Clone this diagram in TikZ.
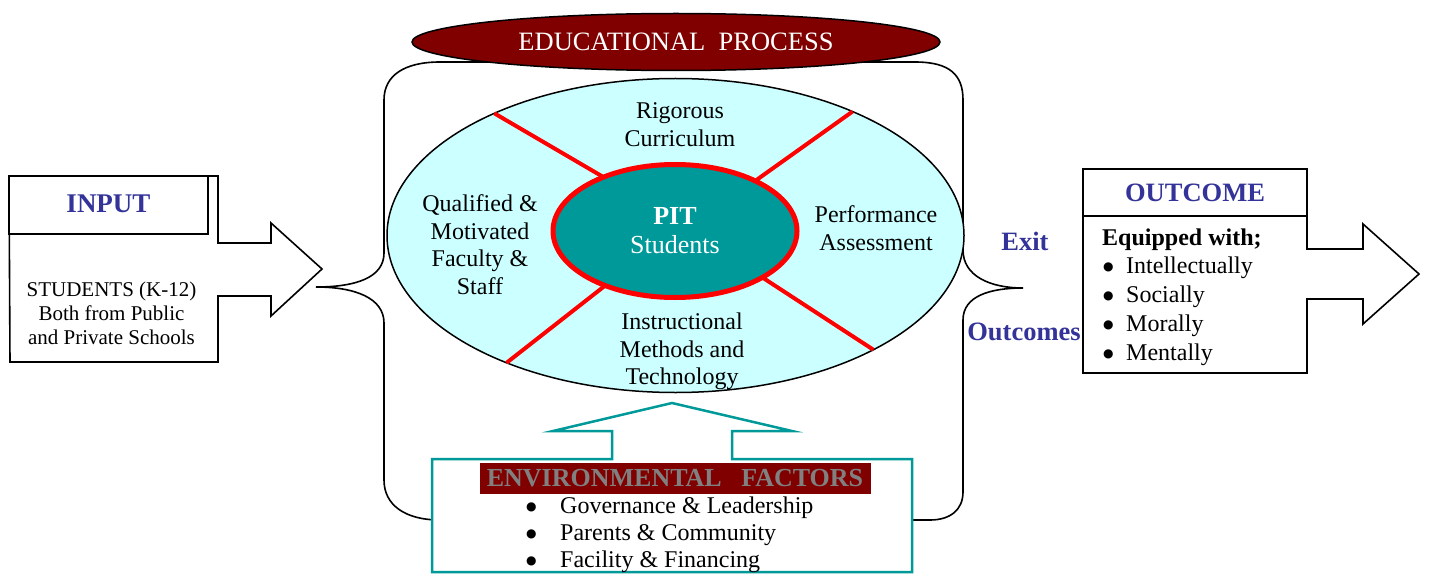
\documentclass[tikz,border=0pt]{standalone}
\usepackage{fontspec}
\setmainfont{Liberation Serif}
\newfontfamily\dejavu{DejaVu Sans}
\usetikzlibrary{shapes.geometric}
\definecolor{dred}{HTML}{800000}
\definecolor{navyc}{HTML}{333399}
\definecolor{tealc}{HTML}{009999}
\definecolor{lcyan}{HTML}{CCFFFF}
\definecolor{greyc}{HTML}{808080}
\newcommand{\bigbul}[1]{\makebox[#1][l]{\raisebox{2.6pt}{\dejavu\fontsize{12}{12}\selectfont ●}}}
\begin{document}
\begin{tikzpicture}[x=1pt,y=-1pt,
  outline/.style={draw=black,line width=1.6pt},
  lbl/.style={align=center,inner sep=0pt,font=\fontsize{24}{27.5}\selectfont},
  head/.style={inner sep=0pt,text=navyc,font=\fontsize{26.5}{30}\selectfont\bfseries},
  itm/.style={anchor=base west,inner sep=0pt,font=\fontsize{24}{28}\selectfont},
  spoke/.style={draw=red,line width=4pt}]
\useasboundingbox (0,0) rectangle (1429,575);

% bracket enclosing the educational process
\draw[outline] (440,62) -- (915,62) .. controls (950,62) and (963,75) .. (963,100)
  -- (963,250) .. controls (963,276) and (990,288) .. (1023,288)
  .. controls (990,288) and (963,296) .. (963,320)
  -- (963,492) .. controls (963,510) and (950,520) .. (930,520)
  -- (440,520) .. controls (405,520) and (384,505) .. (384,480)
  -- (384,323) .. controls (384,298) and (355,287) .. (316,287)
  .. controls (355,287) and (384,278) .. (384,253)
  -- (384,100) .. controls (384,75) and (405,62) .. (440,62) -- cycle;

% top title
\node[ellipse,draw=black,line width=1.5pt,fill=dred,minimum width=528,minimum height=57,
  inner sep=0pt,outer sep=0pt,text=white,font=\fontsize{26.5}{30}\selectfont] (edu) at (676,42)
  {EDUCATIONAL\ \ PROCESS};

% main ellipse
\node[ellipse,draw=black,line width=1.5pt,fill=lcyan,minimum width=577,minimum height=314,
  inner sep=0pt,outer sep=0pt] (main) at (675.5,235.5) {};
\node[ellipse,draw=red,line width=5pt,fill=tealc,minimum width=244,minimum height=133,
  inner sep=0pt,outer sep=0pt,text=white,align=center,font=\fontsize{26}{29}\selectfont] (pit) at (675,231)
  {\textbf{PIT}\\Students};
\draw[spoke] (main.146.5) -- (pit.143);
\draw[spoke] (main.35.5) -- (pit.32.8);
\draw[spoke] (main.217.2) -- (pit.218);
\draw[spoke] (main.330.2) -- (pit.332.5);

\node[lbl] (rig) at (680,124.5) {Rigorous\\Curriculum};
\node[lbl] (fac) at (480,244.5) {Qualified \&\\Motivated\\Faculty \&\\Staff};
\node[lbl] (perf) at (876,228) {Performance\\Assessment};
\node[lbl] (instr) at (682,351.5) {Instructional\\Methods and\\Technology};

% input arrow
\draw[outline,fill=white] (9,176) -- (218,176) -- (218,243) -- (271,243) -- (271,223) -- (322,269)
  -- (271,316) -- (271,296) -- (218,296) -- (218,362) -- (10,362) -- cycle;
\node[outline,fill=white,minimum width=199,minimum height=58,inner sep=0pt,
  text=navyc,font=\fontsize{27}{30}\selectfont\bfseries] (input) at (108.5,205) {\raisebox{2.5pt}{INPUT}};
\node[align=center,inner sep=0pt,font=\fontsize{21}{24}\selectfont] (stud) at (111.5,313)
  {STUDENTS (K-12)\\Both from Public\\and Private Schools};

% outcome arrow
\draw[outline,fill=white] (1083,216) -- (1307,216) -- (1307,249) -- (1363,249) -- (1363,224)
  -- (1419,274) -- (1363,324) -- (1363,299) -- (1307,299) -- (1307,373) -- (1083,373) -- cycle;
\node[outline,fill=white,minimum width=224,minimum height=47,inner sep=0pt,
  text=navyc,font=\fontsize{26.5}{30}\selectfont\bfseries] (outc) at (1195,192.5) {OUTCOME};
\node[itm,font=\fontsize{24}{28}\selectfont\bfseries] (equip) at (1102,245) {Equipped with;};
\node[itm] (o1) at (1103,273) {\bigbul{23pt}Intellectually};
\node[itm] (o2) at (1103,302) {\bigbul{23pt}Socially};
\node[itm] (o3) at (1103,331) {\bigbul{23pt}Morally};
\node[itm] (o4) at (1103,360) {\bigbul{23pt}Mentally};

\node[head] (exit) at (1025,241) {Exit};
\node[head] (outs) at (1024,332) {Outcomes};

% environmental factors
\draw[draw=tealc,line width=2.5pt,fill=white] (612,459) -- (432,459) -- (432,572) -- (912,572)
  -- (912,459) -- (732,459) -- (732,431) -- (792,431) -- (672,403) -- (553,431) -- (612,431) -- cycle;
\node[fill=dred,minimum width=391,minimum height=31,inner sep=0pt,text=greyc,
  font=\fontsize{26}{30}\selectfont\bfseries] (env) at (675,478.5) {ENVIRONMENTAL\ \ \ FACTORS};
\node[itm] (e1) at (526,513) {\bigbul{34pt}Governance \& Leadership};
\node[itm] (e2) at (526,540) {\bigbul{34pt}Parents \& Community};
\node[itm] (e3) at (526,567) {\bigbul{34pt}Facility \& Financing};
\end{tikzpicture}
\end{document}
